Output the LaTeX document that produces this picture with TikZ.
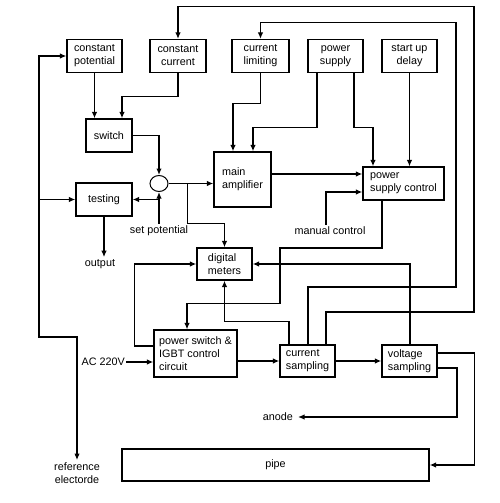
\documentclass[tikz,border=0pt]{standalone}
\usepackage{fontspec}
\setmainfont{Liberation Sans}
\usepackage{tikz}
\usetikzlibrary{arrows.meta,shapes.geometric}
\tikzset{
  blk/.style={draw, line width=1.3pt, minimum width=55, minimum height=33, inner sep=2pt, align=center},
  lbl/.style={inner sep=2pt, align=center},
  conn/.style={line width=1.6pt, -{Latex[length=6.5pt,width=5.5pt]}},
  thin/.style={line width=1.1pt}
}
\begin{document}
\begin{tikzpicture}[x=1pt, y=-1pt, font=\fontsize{10.8}{13}\selectfont]
      \useasboundingbox (0,0) rectangle (500,503);
      \node[blk] (cpot) at (94.5,56) {constant\\potential};
      \node[blk, minimum width=56] (ccur) at (178,56) {constant\\current};
      \node[blk, minimum width=57] (clim) at (260.5,56) {current\\limiting};
      \node[blk] (psup) at (335.5,56) {power\\supply};
      \node[blk] (sud) at (409.5,56) {start up\\delay};
      \node[blk, minimum width=46] (sw) at (109,135.5) {switch};
      \node[draw, ellipse, line width=1pt, minimum width=18, minimum height=16, inner sep=0pt] (junc) at (159,183.5) {};
      \node[blk, minimum width=56] (test) at (104,199.5) {testing};
      \node[blk, minimum width=57, minimum height=55, align=left] (mamp) at (242.5,179.5) {main\\amplifier};
      \node[blk, minimum width=81, align=left] (psc) at (403.5,183.5) {power\\supply control};
      \node[blk, minimum height=32, align=left] (dm) at (224.5,264) {digital\\meters};
      \node[blk, minimum width=83, minimum height=47, align=left] (psw) at (195.5,353.5) {power switch \&\\IGBT control\\circuit};
      \node[blk, minimum height=32, align=left] (csam) at (307.5,361) {current\\sampling};
      \node[blk, minimum height=32, align=left] (vsam) at (409.5,361) {voltage\\sampling};
      \node[blk, minimum width=307, minimum height=32] (pipe) at (275.5,465) {pipe};
      \node[lbl] (outp) at (100,264) {output};
      \node[lbl] (setp) at (159,231) {set potential};
      \node[lbl] (manc) at (330,231) {manual control};
      \node[lbl, anchor=east, inner sep=1pt] (ac) at (126,362) {AC 220V};
      \node[lbl, anchor=east, inner sep=5pt] (anode) at (298,417) {anode};
      \node[lbl, anchor=north] (ref) at (77,460) {reference\\electorde};
      \coordinate (lrail) at (39,0);
      \draw[conn, thin, {Latex[length=6.5pt,width=5.5pt]}-{Latex[length=6.5pt,width=5.5pt]}] (cpot.west) -| (39,337) -| (ref.north);
      \draw[conn] (test.west -| lrail) -- (test.west);
      \draw[conn] (cpot.south) -- (cpot.south |- sw.north);
      \draw[conn] (ccur.south) -- ++(0,23.5) -| ([xshift=13pt]sw.north);
      \draw[conn, thin] ([xshift=18.5pt]csam.north) |- (474,312) |- ([yshift=32.5pt]ccur.north) -- (ccur.north);
      \draw[conn, thin] ([xshift=0.5pt]csam.north) |- (456,287) |- ([yshift=16.5pt]clim.north) -- (clim.north);
      \draw[conn] (clim.south) -- ++(0,30.5) -| ([xshift=-9.5pt]mamp.north);
      \draw[conn] ([xshift=-18.5pt]psup.south) -- ++(0,54.5) -| ([xshift=10.5pt]mamp.north);
      \draw[conn] ([xshift=18.5pt]psup.south) -- ++(0,54.5) -| ([xshift=-30.5pt]psc.north);
      \draw[conn, thin] (sud.south) -- (sud.south |- psc.north);
      \draw[conn] (sw.east) -| (junc.north);
      \draw[conn] (junc.east) -- (junc.east -| mamp.west);
      \draw[conn] ([xshift=19pt]junc.east) |- ([yshift=24pt]dm.north) -- (dm.north);
      \draw[conn] (setp.north) -- (junc.south);
      \draw[conn] (junc.south |- test.east) -- (test.east);
      \draw[conn] (test.south) -- (test.south |- outp.north);
      \draw[conn] ([yshift=5.5pt]mamp.east) -- ([yshift=5.5pt]mamp.east -| psc.west);
      \draw[conn] ([xshift=-4pt]manc.north) |- ([yshift=-8.5pt]psc.west);
      \draw[conn, thin] ([xshift=-21.5pt]psc.south) |- (280,248) |- ([xshift=-8.5pt,yshift=26pt]psw.north) -- ([xshift=-8.5pt]psw.north);
      \draw[conn] ([xshift=0.5pt]vsam.north) |- (dm.east);
      \draw[conn] ([xshift=-18.5pt]csam.north) |- ([yshift=-41pt]dm.south) -- (dm.south);
      \draw[conn] ([yshift=7.5pt]psw.west) -| ([xshift=-62pt]dm.west) -- (dm.west);
      \draw[conn] (ac.east) -- (ac.east -| psw.west);
      \draw[conn] ([yshift=-7.5pt]psw.east) -- (csam.west);
      \draw[conn] (csam.east) -- (vsam.west);
      \draw[conn] ([yshift=8pt]vsam.east) -| ([xshift=45pt]pipe.east) -- (pipe.east);
      \draw[conn] ([yshift=-7pt]vsam.east) -| (457,417) -- (anode.east);
    \end{tikzpicture}
\end{document}
